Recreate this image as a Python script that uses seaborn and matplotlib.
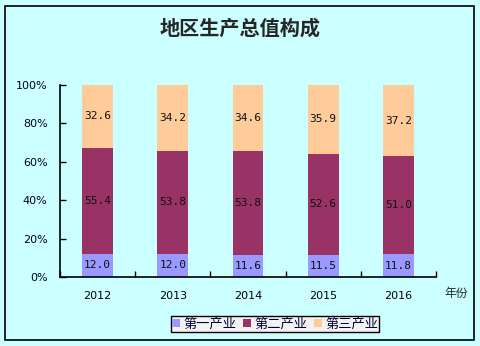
import matplotlib
matplotlib.use("Agg")
import matplotlib.pyplot as plt
from matplotlib.patches import Rectangle
from matplotlib.ticker import FixedLocator, PercentFormatter
import numpy as np
import pandas as pd
import seaborn as sns

years = ["2012", "2013", "2014", "2015", "2016"]
primary = [12.0, 12.0, 11.6, 11.5, 11.8]
secondary = [55.4, 53.8, 53.8, 52.6, 51.0]
tertiary = [32.6, 34.2, 34.6, 35.9, 37.2]
series_names = ["第一产业", "第二产业", "第三产业"]
series_colors = ["#9999FF", "#993366", "#FFCC99"]

sns.set_theme(style="white")
plt.rcParams["font.family"] = ["DejaVu Sans", "Noto Sans CJK SC"]
cjk = ["Noto Sans CJK SC", "DejaVu Sans"]
bg = "#CCFFFF"

fig = plt.figure(figsize=(4.8, 3.46), dpi=100, facecolor=bg)
fig.patches.append(Rectangle((5 / 480, 6 / 346), 469 / 480, 334 / 346,
                             transform=fig.transFigure, fill=False,
                             edgecolor="black", linewidth=1.2))
ax = fig.add_axes([60 / 480, 1 - 277 / 346, 376 / 480, 192 / 346])
ax.set_facecolor(bg)

df = pd.DataFrame({"year": years, "p": primary, "s": secondary, "t": tertiary})
bottoms = np.zeros(len(years))
for col, name, color in zip(["p", "s", "t"], series_names, series_colors):
    sns.barplot(data=df, x="year", y=col, color=color, width=0.41,
                bottom=bottoms.copy(), ax=ax, label=name,
                saturation=1, edgecolor="none", linewidth=0)
    for i, v in enumerate(df[col]):
        ax.text(i, bottoms[i] + v / 2, f"{v:.1f}", ha="center", va="center",
                fontsize=8, family="DejaVu Sans Mono", color="#111111")
    bottoms += df[col].to_numpy()

ax.set_xlim(-0.5, 4.5)
ax.set_ylim(0, 100)
ax.set_xlabel("")
ax.set_ylabel("")
ax.yaxis.set_major_locator(FixedLocator([0, 20, 40, 60, 80, 100]))
ax.yaxis.set_major_formatter(PercentFormatter(decimals=0))
ax.xaxis.set_minor_locator(FixedLocator(np.arange(-0.5, 5, 1.0)))
ax.tick_params(axis="x", which="major", length=0, pad=10, labelsize=8,
               labelcolor="#000000")
ax.tick_params(axis="x", which="minor", length=4, direction="in",
               width=1, color="black", bottom=True)
ax.tick_params(axis="y", which="major", length=4, direction="in", width=1,
               pad=9, labelsize=8, color="black", left=True,
               labelcolor="#000022")
for side in ["top", "right"]:
    ax.spines[side].set_visible(False)
for side in ["left", "bottom"]:
    ax.spines[side].set_color("black")
    ax.spines[side].set_linewidth(1.2)

fig.text(0.5, 1 - 28 / 346, "地区生产总值构成", ha="center", va="center",
         fontsize=14.5, fontweight="bold", family=cjk)
fig.text(456 / 480, 1 - 293 / 346, "年份", ha="center", va="center",
         fontsize=8.5, family=cjk)

handles, labels = ax.get_legend_handles_labels()
leg = fig.legend(handles, labels, loc="center", ncol=3,
                 bbox_to_anchor=(275 / 480, 1 - 324 / 346),
                 prop={"family": cjk, "size": 9.5}, frameon=True,
                 fancybox=False, framealpha=1, facecolor="#F2F2F2",
                 edgecolor="black", handlelength=0.6, handleheight=0.6,
                 handletextpad=0.25, columnspacing=0.5, borderpad=0.1,
                 borderaxespad=0, labelcolor="#000033")
leg.get_frame().set_linewidth(1.0)
if ax.get_legend() is not None:
    ax.get_legend().remove()

fig.savefig("out.png", dpi=100, facecolor=bg)
